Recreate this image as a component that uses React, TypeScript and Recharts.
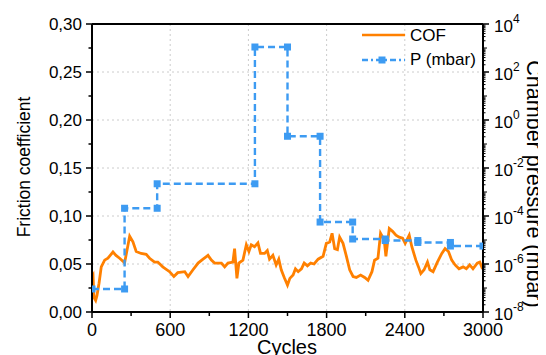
import React from 'react';
import { LineChart, Line, XAxis, YAxis, CartesianGrid, ReferenceLine, Customized } from 'recharts';

const FONT = '"Liberation Sans", Arial, sans-serif';
const ORANGE = '#FF8000';
const BLUE = '#3D9BF2';

// Friction coefficient trace
const cofCycles = [0, 8, 15, 28, 38, 54, 71, 97, 122, 161, 184, 212, 237, 250, 289, 314, 339, 377, 416, 442, 480, 505, 543, 595, 628, 658, 712, 737, 775, 814, 852, 890, 916, 941, 993, 1018, 1043, 1081, 1094, 1112, 1127, 1158, 1184, 1204, 1222, 1247, 1273, 1293, 1324, 1345, 1362, 1388, 1413, 1433, 1452, 1475, 1500, 1518, 1543, 1561, 1582, 1607, 1628, 1653, 1678, 1704, 1735, 1773, 1798, 1824, 1842, 1862, 1883, 1900, 1926, 1952, 1977, 2003, 2028, 2061, 2092, 2118, 2148, 2168, 2194, 2214, 2242, 2255, 2281, 2306, 2332, 2357, 2383, 2403, 2434, 2454, 2485, 2505, 2523, 2548, 2574, 2592, 2617, 2650, 2684, 2709, 2735, 2760, 2786, 2816, 2847, 2872, 2898, 2923, 2956, 2975, 2990, 3000];
const cofValues = [0.036, 0.038, 0.015, 0.012, 0.017, 0.030, 0.047, 0.054, 0.056, 0.0625, 0.059, 0.056, 0.053, 0.051, 0.079, 0.073, 0.063, 0.061, 0.060, 0.056, 0.052, 0.052, 0.047, 0.042, 0.037, 0.041, 0.042, 0.037, 0.044, 0.051, 0.055, 0.059, 0.054, 0.051, 0.051, 0.047, 0.051, 0.052, 0.066, 0.035, 0.051, 0.054, 0.070, 0.063, 0.070, 0.068, 0.072, 0.061, 0.061, 0.064, 0.055, 0.059, 0.049, 0.055, 0.044, 0.036, 0.028, 0.035, 0.0385, 0.045, 0.042, 0.045, 0.051, 0.048, 0.051, 0.050, 0.055, 0.058, 0.0715, 0.073, 0.082, 0.066, 0.065, 0.078, 0.0715, 0.058, 0.044, 0.037, 0.036, 0.0385, 0.036, 0.033, 0.042, 0.054, 0.056, 0.082, 0.075, 0.058, 0.087, 0.084, 0.080, 0.078, 0.077, 0.0715, 0.080, 0.068, 0.054, 0.047, 0.040, 0.044, 0.052, 0.044, 0.042, 0.052, 0.061, 0.066, 0.063, 0.054, 0.049, 0.045, 0.047, 0.045, 0.049, 0.045, 0.051, 0.052, 0.047, 0.049];

// Chamber pressure steps (mbar)
const stepCycles = [0, 250, 500, 1250, 1500, 1750, 2000, 2250, 2500, 2750, 3000];
const pressureLevels = [9.1e-8, 2.1e-4, 2.2e-3, 1.1e3, 0.21, 5.6e-5, 1.1e-5, 9.5e-6, 7.9e-6, 5.6e-6];

// Axis ticks
const xTicks = [0, 300, 600, 900, 1200, 1500, 1800, 2100, 2400, 2700, 3000];
const xGrid = [600, 1200, 1800, 2400];
const cofTicks = [0, 0.025, 0.05, 0.075, 0.1, 0.125, 0.15, 0.175, 0.2, 0.225, 0.25, 0.275, 0.3];
const cofGrid = [0.05, 0.1, 0.15, 0.2, 0.25];
const pressureDecades = [-8, -7, -6, -5, -4, -3, -2, -1, 0, 1, 2, 3, 4];

const cofData = cofCycles.map((c, i) => ({ x: c, cof: cofValues[i] }));
const pData: { x: number; p: number }[] = [];
pressureLevels.forEach((lvl, i) => {
  pData.push({ x: stepCycles[i], p: lvl });
  pData.push({ x: stepCycles[i + 1], p: lvl });
});

const pTicks: number[] = [];
pressureDecades.forEach((k) => {
  pTicks.push(Math.pow(10, k));
  if (k < 4) for (let m = 2; m <= 9; m++) pTicks.push(m * Math.pow(10, k));
});

const CofTick = (props: any) => {
  const { x, y, payload } = props;
  const v = payload.value;
  const major = Math.abs(Math.round(v * 20) - v * 20) < 1e-6;
  return (
    <g>
      <line x1={x} x2={x - (major ? 6 : 3.5)} y1={y} y2={y} stroke="#000" strokeWidth={1.5} />
      {major && (
        <text x={x - 10} y={y} dy="0.36em" textAnchor="end" fontSize={17} fill="#000" fontFamily={FONT}>
          {v.toFixed(2).replace('.', ',')}
        </text>
      )}
    </g>
  );
};

const XTick = (props: any) => {
  const { x, y, payload } = props;
  const v = payload.value;
  const major = v % 600 === 0;
  return (
    <g>
      <line x1={x} x2={x} y1={y} y2={y + (major ? 6 : 4)} stroke="#000" strokeWidth={1.5} />
      {major && (
        <text x={x} y={y + 24} textAnchor="middle" fontSize={18} fill="#000" fontFamily={FONT}>
          {v}
        </text>
      )}
    </g>
  );
};

const PTick = (props: any) => {
  const { x, y, payload } = props;
  const v = payload.value;
  const e = Math.log10(v);
  const r = Math.round(e);
  const decade = Math.abs(e - r) < 1e-6;
  const major = decade && r % 2 === 0;
  const len = major ? 6 : decade ? 4 : 2.5;
  return (
    <g>
      <line x1={x} x2={x + len} y1={y} y2={y} stroke="#000" strokeWidth={major ? 1.5 : 1} />
      {major && (
        <text x={x + 11} y={y + 8} fontSize={17} fill="#000" fontFamily={FONT}>
          10
          <tspan dy={-9} fontSize={12}>{String(r)}</tspan>
        </text>
      )}
    </g>
  );
};

const SquareDot = (props: any) => {
  const { cx, cy } = props;
  if (cx == null || cy == null) return null;
  return <rect x={cx - 3.5} y={cy - 3.5} width={7} height={7} fill={BLUE} />;
};

const Annotations = () => (
  <g fontFamily={FONT} fill="#000">
    <text transform="translate(16,159) rotate(-90)" textAnchor="middle" dominantBaseline="central" fontSize={17.5}>
      Friction coefficient
    </text>
    <text x={279} y={346} textAnchor="middle" fontSize={20}>
      Cycles
    </text>
    <text transform="translate(519,176) rotate(90)" textAnchor="middle" fontSize={21.5}>
      Chamber pressure (mbar)
    </text>
    <line x1={354} x2={397} y1={27} y2={27} stroke={ORANGE} strokeWidth={2.6} />
    <text x={402} y={27} dy="0.36em" fontSize={17}>COF</text>
    <line x1={354} x2={397} y1={52} y2={52} stroke={BLUE} strokeWidth={2.4} strokeDasharray="6 3 2 3" />
    <rect x={370.5} y={48.5} width={7} height={7} fill={BLUE} />
    <text x={402} y={51} dy="0.36em" fontSize={17}>P (mbar)</text>
  </g>
);

export default function App() {
  return (
    <LineChart width={538} height={347} margin={{ top: 16, right: 13, bottom: 13, left: 24 }}>
      <CartesianGrid
        xAxisId="x"
        yAxisId="cof"
        stroke="#cccccc"
        strokeDasharray="2 3"
        verticalValues={xGrid}
        horizontalValues={cofGrid}
      />
      <XAxis
        xAxisId="x"
        type="number"
        dataKey="x"
        domain={[0, 3000]}
        ticks={xTicks}
        interval={0}
        tickSize={0}
        tickMargin={0}
        tickLine={false}
        tick={<XTick />}
        height={30}
        axisLine={{ stroke: '#000', strokeWidth: 2 }}
        allowDataOverflow
      />
      <YAxis
        yAxisId="cof"
        orientation="left"
        type="number"
        domain={[0, 0.3]}
        ticks={cofTicks}
        interval={0}
        tickSize={0}
        tickMargin={0}
        tickLine={false}
        tick={<CofTick />}
        width={60}
        axisLine={{ stroke: '#000', strokeWidth: 2 }}
        allowDataOverflow
      />
      <YAxis
        yAxisId="p"
        orientation="right"
        type="number"
        scale="log"
        domain={[1e-8, 1e4]}
        ticks={pTicks}
        interval={0}
        tickSize={0}
        tickMargin={0}
        tickLine={false}
        tick={<PTick />}
        width={50}
        axisLine={{ stroke: '#000', strokeWidth: 2 }}
        allowDataOverflow
      />
      <ReferenceLine xAxisId="x" yAxisId="cof" y={0.3} stroke="#000" strokeWidth={2} />
      <Line
        xAxisId="x"
        yAxisId="cof"
        data={cofData}
        dataKey="cof"
        type="linear"
        stroke={ORANGE}
        strokeWidth={2.8}
        dot={false}
        isAnimationActive={false}
      />
      <Line
        xAxisId="x"
        yAxisId="p"
        data={pData}
        dataKey="p"
        type="linear"
        stroke={BLUE}
        strokeWidth={2.4}
        strokeDasharray="7 4"
        dot={<SquareDot />}
        isAnimationActive={false}
      />
      <Customized component={<Annotations />} />
    </LineChart>
  );
}
